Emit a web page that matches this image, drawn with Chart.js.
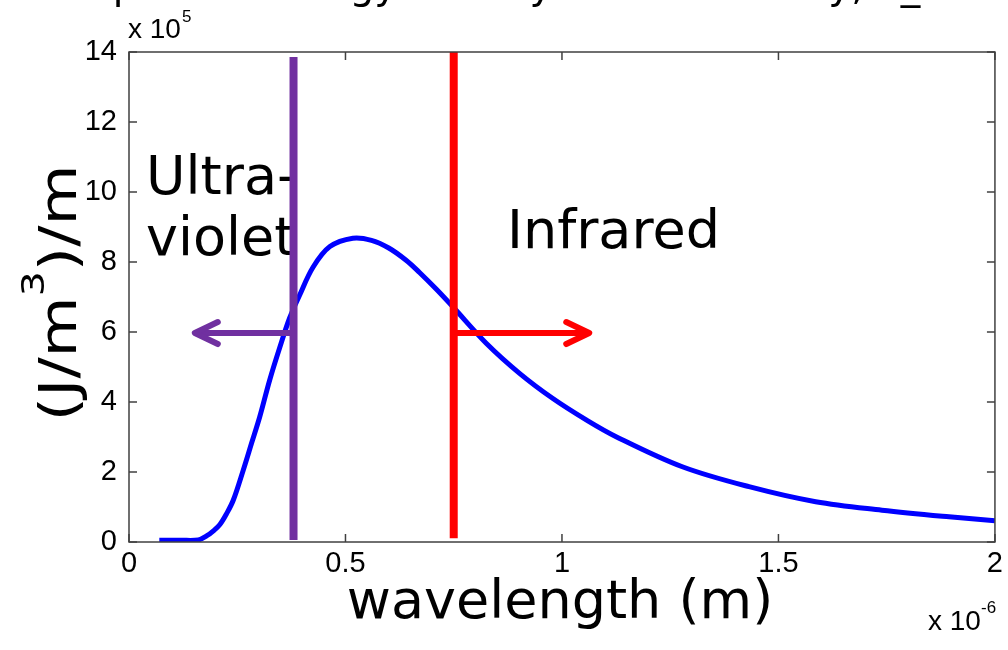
<!DOCTYPE html>
<html>
<head>
<meta charset="utf-8">
<script src="https://cdn.jsdelivr.net/npm/chart.js@4.4.1/dist/chart.umd.min.js"></script>
<style>
  html, body { margin: 0; padding: 0; background: #fff; }
  canvas { display: block; }
</style>
</head>
<body>
<canvas id="planckChart" width="1008" height="650"></canvas>
<script>
// wavelength in units of 1e-6 m, energy density in units of 1e5 (J/m^3)/m
const wavelength = [0.07, 0.12, 0.16, 0.18, 0.195, 0.21, 0.225, 0.241, 0.264, 0.283,
  0.302, 0.325, 0.348, 0.371, 0.394, 0.425, 0.464, 0.517, 0.56, 0.60,
  0.64, 0.671, 0.71, 0.748, 0.825, 0.902, 0.979, 1.056, 1.125, 1.278,
  1.432, 1.586, 1.739, 1.894, 2.0];
const energyDensity = [0.05, 0.05, 0.06, 0.18, 0.32, 0.5, 0.8, 1.2, 2.06, 2.82,
  3.58, 4.63, 5.55, 6.4, 7.05, 7.85, 8.44, 8.68, 8.62, 8.4,
  8.05, 7.7, 7.22, 6.72, 5.68, 4.82, 4.1, 3.49, 3.01, 2.15,
  1.58, 1.15, 0.91, 0.72, 0.61];

const xTicks = [0, 0.5, 1, 1.5, 2];
const yTicks = [0, 2, 4, 6, 8, 10, 12, 14];

// boundaries and arrows (x in 1e-6 m, y in 1e5)
const uvEdge = [0.38, 0.06, 13.86];     // x, yBottom, yTop
const irEdge = [0.75, 0.11, 14.0];
const arrowLevel = 5.97;
const uvArrowTip = 0.152;
const irArrowTip = 1.063;

const curvePoints = wavelength.map((x, i) => ({ x: x, y: energyDensity[i] }));

function sideTexts(ctx) {
  ctx.save();
  ctx.fillStyle = '#000';
  ctx.font = '54px "DejaVu Sans"';
  ctx.textBaseline = 'alphabetic';
  ctx.fillText('Ultra-', 146, 194);
  ctx.fillText('violet', 146, 255);
  ctx.fillText('Infrared', 507, 248);
  ctx.restore();
}

function arrowHead(ctx, x, y, dir, color) {
  ctx.save();
  ctx.strokeStyle = color;
  ctx.lineWidth = 6;
  ctx.lineCap = 'round';
  ctx.lineJoin = 'round';
  ctx.beginPath();
  ctx.moveTo(x - dir * 23, y - 11);
  ctx.lineTo(x, y);
  ctx.lineTo(x - dir * 23, y + 11);
  ctx.stroke();
  ctx.restore();
}

const decorations = {
  id: 'decorations',
  beforeDatasetsDraw(chart) {
    sideTexts(chart.ctx);
  },
  afterDatasetsDraw(chart) {
    const ctx = chart.ctx;
    const xs = chart.scales.x, ys = chart.scales.y;
    const yA = ys.getPixelForValue(arrowLevel);
    arrowHead(ctx, xs.getPixelForValue(uvArrowTip), yA, -1, '#7030a0');
    arrowHead(ctx, xs.getPixelForValue(irArrowTip), yA, 1, '#ff0000');
  },
  afterDraw(chart) {
    const ctx = chart.ctx;
    const a = chart.chartArea;
    const xs = chart.scales.x, ys = chart.scales.y;

    // axes box with inward ticks
    ctx.save();
    ctx.strokeStyle = '#404040';
    ctx.lineWidth = 1.5;
    ctx.strokeRect(a.left, a.top, a.right - a.left, a.bottom - a.top);
    ctx.beginPath();
    yTicks.forEach(v => {
      const p = ys.getPixelForValue(v);
      ctx.moveTo(a.left, p); ctx.lineTo(a.left + 8, p);
      ctx.moveTo(a.right, p); ctx.lineTo(a.right - 8, p);
    });
    xTicks.forEach(v => {
      const p = xs.getPixelForValue(v);
      ctx.moveTo(p, a.bottom); ctx.lineTo(p, a.bottom - 8);
      ctx.moveTo(p, a.top); ctx.lineTo(p, a.top + 8);
    });
    ctx.stroke();
    ctx.restore();

    ctx.save();
    ctx.fillStyle = '#000';
    ctx.textBaseline = 'alphabetic';

    // exponent labels
    ctx.font = '28px "Liberation Sans"';
    ctx.fillText('x 10', 128, 38);
    ctx.fillText('x 10', 928, 630);
    ctx.font = '17px "Liberation Sans"';
    ctx.fillText('5', 182, 22);
    ctx.fillText('-6', 981, 613);

    // x axis title
    ctx.font = '54px "DejaVu Sans"';
    ctx.textAlign = 'center';
    ctx.fillText('wavelength (m)', 560, 618);

    // y axis title, rotated
    ctx.textAlign = 'left';
    const big = '51px "DejaVu Sans"', small = '32px "DejaVu Sans"';
    ctx.font = big;
    const w1 = ctx.measureText('(J/m').width;
    const w3 = ctx.measureText(')/m').width;
    ctx.font = small;
    const w2 = ctx.measureText('3').width;
    const total = w1 + w2 + w3;
    ctx.translate(76, 293);
    ctx.rotate(-Math.PI / 2);
    ctx.scale(257 / total, 1);
    let x0 = -total / 2;
    ctx.font = big;
    ctx.fillText('(J/m', x0, 0);
    ctx.font = small;
    ctx.fillText('3', x0 + w1, -32);
    ctx.font = big;
    ctx.fillText(')/m', x0 + w1 + w2, 0);
    ctx.restore();

    // title cut off at the top edge
    ctx.save();
    ctx.fillStyle = '#000';
    ctx.font = '39px "DejaVu Sans"';
    ctx.fillText('Spectral energy density of a blackbody, u_\u03bb', 88, -1);
    ctx.restore();
  }
};

const ctx = document.getElementById('planckChart').getContext('2d');
new Chart(ctx, {
  type: 'line',
  data: {
    datasets: [
      {
        label: 'UV edge',
        data: [{ x: uvEdge[0], y: uvEdge[1] }, { x: uvEdge[0], y: uvEdge[2] }],
        borderColor: '#7030a0',
        borderWidth: 8,
        borderCapStyle: 'butt',
        pointRadius: 0
      },
      {
        label: 'IR edge',
        data: [{ x: irEdge[0], y: irEdge[1] }, { x: irEdge[0], y: irEdge[2] }],
        borderColor: '#ff0000',
        borderWidth: 8,
        borderCapStyle: 'butt',
        pointRadius: 0
      },
      {
        label: 'UV arrow',
        data: [{ x: uvEdge[0], y: arrowLevel }, { x: uvArrowTip, y: arrowLevel }],
        borderColor: '#7030a0',
        borderWidth: 6,
        pointRadius: 0
      },
      {
        label: 'IR arrow',
        data: [{ x: irEdge[0], y: arrowLevel }, { x: irArrowTip, y: arrowLevel }],
        borderColor: '#ff0000',
        borderWidth: 6,
        pointRadius: 0
      },
      {
        label: 'u',
        data: curvePoints,
        borderColor: '#0000ff',
        borderWidth: 5,
        tension: 0.35,
        pointRadius: 0
      }
    ]
  },
  options: {
    responsive: false,
    animation: false,
    layout: { padding: { left: 0, top: 52, right: 12, bottom: 0 } },
    plugins: { legend: { display: false }, tooltip: { enabled: false } },
    scales: {
      x: {
        type: 'linear',
        min: 0,
        max: 2,
        afterBuildTicks: s => { s.ticks = xTicks.map(v => ({ value: v })); },
        afterFit: s => { s.height = 108; },
        grid: { display: false, drawTicks: false },
        border: { display: false },
        ticks: {
          padding: 5,
          color: '#000',
          font: { family: 'Liberation Sans', size: 29 },
          maxRotation: 0,
          autoSkip: false,
          callback: v => String(v)
        }
      },
      y: {
        type: 'linear',
        min: 0,
        max: 14,
        afterBuildTicks: s => { s.ticks = yTicks.map(v => ({ value: v })); },
        afterFit: s => { s.width = 129; },
        grid: { display: false, drawTicks: false },
        border: { display: false },
        ticks: {
          padding: 12,
          color: '#000',
          font: { family: 'Liberation Sans', size: 29 },
          autoSkip: false,
          callback: v => String(v)
        }
      }
    }
  },
  plugins: [decorations]
});
</script>
</body>
</html>
